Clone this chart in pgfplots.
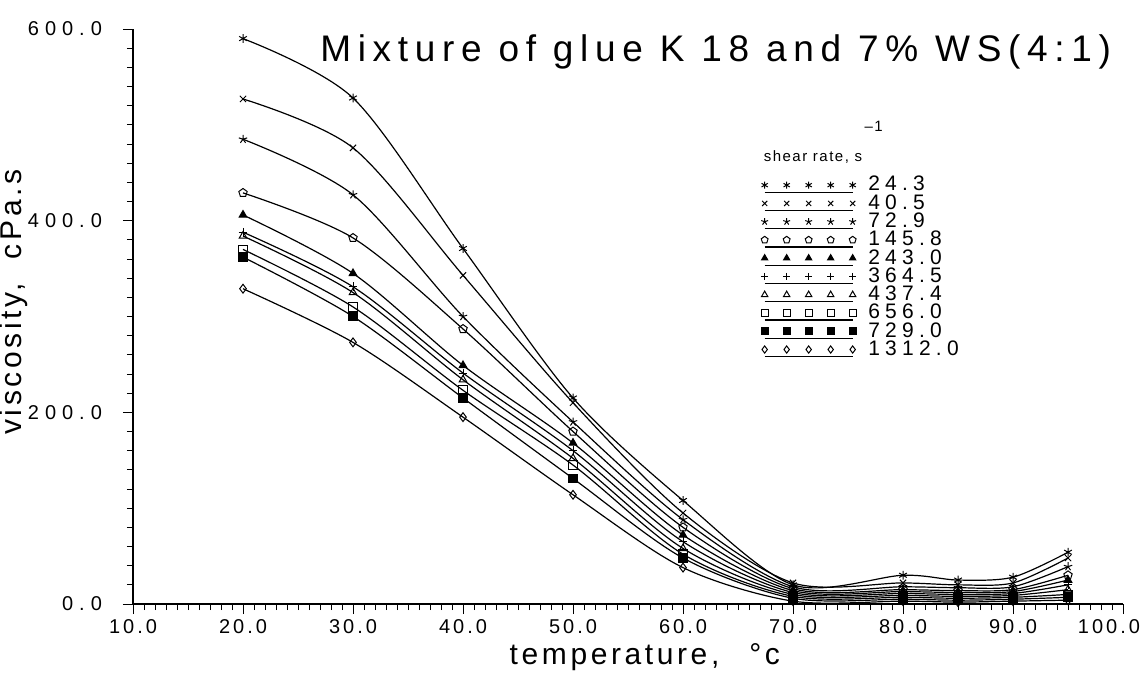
\documentclass[border=0pt]{standalone}
\usepackage{fontspec}
\setmainfont{Liberation Sans}
\usepackage{pgfplots}
\pgfplotsset{compat=1.18}
\usetikzlibrary{plotmarks}
\pgfplotstableread{
T     a     b     c     d     e     f     g     h     i     j
20    590   527   485   429   406   388   384   370   362   329
30    528   476   427   382   345   331   325   310   300   273
40    371   343   300   287   249   241   234   223   215   195
50    215   210   190   180   168   160   152   145   131   114
60    108   95    88    80    72    65    58    52    48    38
70    20    22    18    16    14    12    10    8     6     3
80    30    22    18    15    13    11    9     7     5     3
85    25    20    17    14    12    10    8     6     4     2
90    28    22    18    15    13    11    9     7     5     3
95    54    48    39    30    25    20    15    10    7     4
}\visc
\begin{document}
\begin{tikzpicture}
\begin{axis}[
  scale only axis, width=495pt, height=287.5pt,
  xmin=10, xmax=100, ymin=0, ymax=600,
  axis lines=left, axis line style={-, line width=0.6pt},
  xtick={10,20,...,100}, ytick={0,200,400,600},
  xticklabels={10.0,20.0,30.0,40.0,50.0,60.0,70.0,80.0,90.0,\kern-14pt 100.0},
  minor x tick num=9, minor y tick num=9,
  tick align=outside, major tick length=5pt, minor tick length=3pt,
  tick style={line width=0.5pt, black},
  /pgf/number format/assume math mode=true,
  xticklabel style={font=\fontsize{10}{11}\selectfont\addfontfeatures{LetterSpace=15},
    yshift=1pt},
  yticklabel style={font=\fontsize{10}{11}\selectfont\addfontfeatures{LetterSpace=30},
    xshift=-7pt,
    /pgf/number format/fixed, /pgf/number format/fixed zerofill, /pgf/number format/precision=1},
  xlabel={temperature,\quad °c},
  ylabel={viscosity,\ \ cPa.s},
  every axis x label/.style={at={(rel axis cs:0.517,-0.092)}, anchor=center,
    font=\fontsize{15}{18}\selectfont\addfontfeatures{LetterSpace=12}},
  every axis y label/.style={at={(rel axis cs:-0.12,0.525)}, anchor=center, rotate=90,
    font=\fontsize{15}{18}\selectfont\addfontfeatures{LetterSpace=12}},
  clip=false,
  every axis plot/.append style={black, solid, line width=0.6pt, smooth, tension=0.5,
    mark size=2.2pt, mark options={solid, black, line width=0.5pt}},
  legend style={at={(rel axis cs:0.634,0.748)}, anchor=north west, draw=none, fill=none,
    font=\fontsize{10.5}{11}\selectfont\addfontfeatures{LetterSpace=25}, inner sep=0pt,
    row sep=-1.7pt, nodes={inner sep=1pt},
    /tikz/every odd column/.append style={column sep=5pt}},
  legend cell align=left,
  legend image code/.code={
    \draw[#1,mark=none] (0pt,-3.5pt) -- (44pt,-3.5pt);
    \draw[#1,mark size=1.8pt] plot[only marks] coordinates {(0pt,0pt) (11pt,0pt) (22pt,0pt) (33pt,0pt) (44pt,0pt)};
  },
]
\addplot[mark=asterisk] table[x=T,y=a]{\visc};
\addlegendentry{24.3}
\addplot[mark=x] table[x=T,y=b]{\visc};
\addlegendentry{40.5}
\addplot[mark=star] table[x=T,y=c]{\visc};
\addlegendentry{72.9}
\addplot[mark=pentagon] table[x=T,y=d]{\visc};
\addlegendentry{145.8}
\addplot[mark=triangle*] table[x=T,y=e]{\visc};
\addlegendentry{243.0}
\addplot[mark=+] table[x=T,y=f]{\visc};
\addlegendentry{364.5}
\addplot[mark=triangle] table[x=T,y=g]{\visc};
\addlegendentry{437.4}
\addplot[mark=square] table[x=T,y=h]{\visc};
\addlegendentry{656.0}
\addplot[mark=square*] table[x=T,y=i]{\visc};
\addlegendentry{729.0}
\addplot[mark=diamond] table[x=T,y=j]{\visc};
\addlegendentry{1312.0}
\node[anchor=base east, font=\fontsize{18.5}{20}\selectfont\addfontfeatures{LetterSpace=18}]
  at (rel axis cs:0.995,0.943) {Mixture of glue K 18 and 7\% WS(4:1)};
\node[anchor=base west, font=\fontsize{7.5}{8}\selectfont\addfontfeatures{LetterSpace=10}]
  at (rel axis cs:0.63,0.769) {shear rate, s\raisebox{15pt}{\,--1}};
\end{axis}
\pgfresetboundingbox
\path (current axis.south west) ++(-66.5pt,-37.5pt) rectangle ([xshift=12.5pt,yshift=14.5pt]current axis.north east);
\end{tikzpicture}
\end{document}
